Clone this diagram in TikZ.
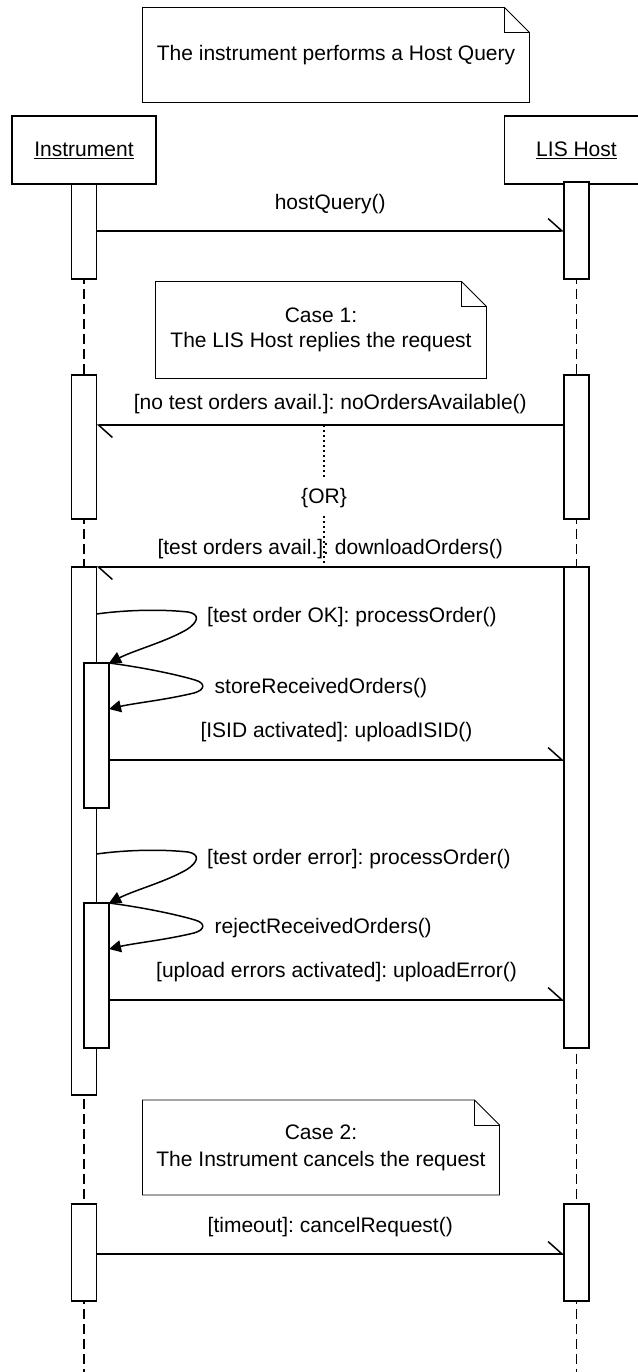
\documentclass[tikz,border=0pt]{standalone}
\usepackage{fontspec}
\setmainfont{Liberation Sans}
\usetikzlibrary{arrows.meta}
\frenchspacing

\begin{document}
\begin{tikzpicture}[x=1pt, y=-1pt,
    every node/.style={font=\fontsize{21}{25}\selectfont},
    head/.style={draw, line width=1.5pt, minimum width=144pt, minimum height=68pt, inner sep=0pt, outer sep=0pt},
    bar/.style={draw, fill=white, line width=1.5pt, minimum width=25pt, inner sep=0pt, outer sep=0pt, anchor=north},
    lifeline/.style={line width=1.3pt, dash pattern=on 10pt off 5pt},
    notebox/.style={inner sep=0pt, outer sep=0pt, align=center},
    noteline/.style={line width=0.8pt},
    msg/.style={line width=1.5pt, -{Straight Barb[harpoon, length=14pt, width=25pt]}},
    selfcall/.style={line width=1.5pt, -{Triangle[length=12pt, width=12pt]}},
    orline/.style={line width=1.3pt, dash pattern=on 2pt off 3pt},
  ]
    \useasboundingbox (0,0) rectangle (637,1372);
    % Notes with folded corner
    \node[notebox, minimum width=387pt, minimum height=95pt] (hqnote) at (336,55) {The instrument performs a Host Query};
    \draw[noteline] (hqnote.north west) -- ([xshift=-25pt]hqnote.north east) -- ([yshift=-25pt]hqnote.north east) -- (hqnote.south east) -- (hqnote.south west) -- cycle;
    \draw[noteline] ([xshift=-25pt]hqnote.north east) |- ([yshift=-25pt]hqnote.north east);
    \node[notebox, minimum width=331pt, minimum height=97pt] (casenote1) at (321,330) {Case 1:\\The LIS Host replies the request};
    \draw[noteline] (casenote1.north west) -- ([xshift=-25pt]casenote1.north east) -- ([yshift=-25pt]casenote1.north east) -- (casenote1.south east) -- (casenote1.south west) -- cycle;
    \draw[noteline] ([xshift=-25pt]casenote1.north east) |- ([yshift=-25pt]casenote1.north east);
    \node[notebox, minimum width=357pt, minimum height=95pt] (casenote2) at (321,1147.5) {Case 2:\\[2pt]The Instrument cancels the request};
    \draw[noteline] (casenote2.north west) -- ([xshift=-25pt]casenote2.north east) -- ([yshift=-25pt]casenote2.north east) -- (casenote2.south east) -- (casenote2.south west) -- cycle;
    \draw[noteline] ([xshift=-25pt]casenote2.north east) |- ([yshift=-25pt]casenote2.north east);
    % Objects and their lifelines
    \node[head] (inst) at (84,150) {\underline{Instrument}};
    \node[head] (lis) at (576.5,150) {\underline{LIS Host}};
    \draw[lifeline] (inst.south) -- (inst.south |- 0,1372);
    \draw[lifeline] (lis.south) -- (lis.south |- 0,1372);
    % Activation bars
    \node[bar, minimum height=95pt] (ibar1) at (84,184) {};
    \node[bar, minimum height=97pt] (lbar1) at (576.5,182) {};
    \node[bar, minimum height=144pt] (ibar2) at (84,375) {};
    \node[bar, minimum height=144pt] (lbar2) at (576.5,375) {};
    \node[bar, minimum height=528pt] (ibar3) at (84,567) {};
    \node[bar, minimum height=481pt] (lbar3) at (576.5,567) {};
    \node[bar, minimum height=145pt] (nbar1) at (96.5,663) {};
    \node[bar, minimum height=145pt] (nbar2) at (96.5,903) {};
    \node[bar, minimum height=97pt] (ibar4) at (84,1204) {};
    \node[bar, minimum height=97pt] (lbar4) at (576.5,1204) {};
    % Host query
    \draw[msg] (ibar1.east |- 0,231) -- (lbar1.west |- 0,231) node[midway, yshift=27pt] (hqlabel) {hostQuery()};
    % Case 1: reply
    \draw[msg] (lbar2.west |- 0,425) -- (ibar2.east |- 0,425) node[midway, yshift=20.5pt] (nolabel) {[no test orders avail.]: noOrdersAvailable()};
    \draw[msg] (lbar3.west |- 0,567) -- (ibar3.east |- 0,567) node[midway, yshift=17.5pt] (dllabel) {[test orders avail.]: downloadOrders()};
    \node[inner sep=8.5pt] (orsep) at (324,498) {\{OR\}};
    \draw[orline] (orsep.north |- 0,425) -- (orsep.north);
    \draw[orline] (orsep.south) -- (orsep.south |- 0,567);
    % Order OK
    \coordinate (okstart) at (ibar3.east |- 0,614);
    \draw[selfcall] (okstart) .. controls (125,610) and (160,609) .. (188,612) .. controls (200,614) and (199,622) .. (186,630) .. controls (165,642) and (135,650) .. (nbar1.north east);
    \node[anchor=west, inner sep=0pt] (oklabel) at (207,617) {[test order OK]: processOrder()};
    \coordinate (storeend) at (nbar1.east |- 0,709);
    \draw[selfcall] (nbar1.north east) .. controls (140,667) and (175,674) .. (195,680) .. controls (206,683) and (205,690) .. (194,693) .. controls (165,700) and (135,703) .. (storeend);
    \node[anchor=west, inner sep=0pt] (storelabel) at (214.5,688) {storeReceivedOrders()};
    \draw[msg] (nbar1.east |- 0,760) -- (lbar3.west |- 0,760) node[midway, yshift=27.5pt] (isidlabel) {[ISID activated]: uploadISID()};
    % Order error
    \coordinate (errstart) at (ibar3.east |- 0,854);
    \draw[selfcall] (errstart) .. controls (125,850) and (160,849) .. (188,852) .. controls (200,854) and (199,862) .. (186,870) .. controls (165,882) and (135,890) .. (nbar2.north east);
    \node[anchor=west, inner sep=0pt] (errlabel) at (207,859) {[test order error]: processOrder()};
    \coordinate (rejectend) at (nbar2.east |- 0,949);
    \draw[selfcall] (nbar2.north east) .. controls (140,907) and (175,914) .. (195,920) .. controls (206,923) and (205,930) .. (194,933) .. controls (165,940) and (135,943) .. (rejectend);
    \node[anchor=west, inner sep=0pt] (rejectlabel) at (214.5,928) {rejectReceivedOrders()};
    \draw[msg] (nbar2.east |- 0,1000) -- (lbar3.west |- 0,1000) node[midway, yshift=28pt] (uperrlabel) {[upload errors activated]: uploadError()};
    % Case 2: cancel
    \draw[msg] (ibar4.east |- 0,1254) -- (lbar4.west |- 0,1254) node[midway, yshift=27pt] (cancellabel) {[timeout]: cancelRequest()};
\end{tikzpicture}
\end{document}
